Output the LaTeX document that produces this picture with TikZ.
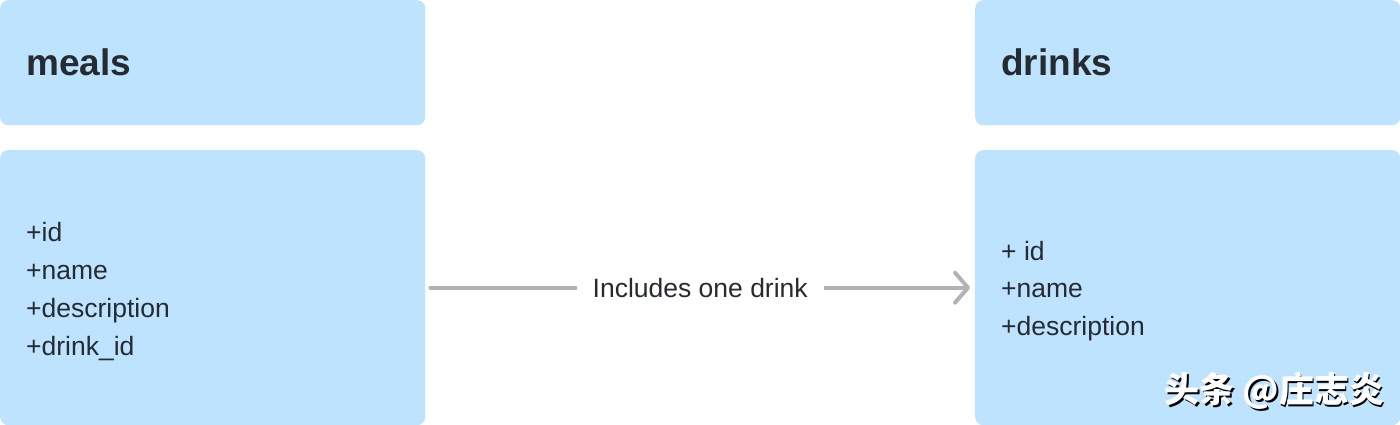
\documentclass[tikz,border=0pt]{standalone}
\usepackage{fontspec}
\setmainfont{Liberation Sans}
\newfontfamily\cjk{Noto Sans CJK SC}
\usepackage{tikz}
\usetikzlibrary{arrows.meta,positioning}
\usepackage{xcolor}
\definecolor{TableBlue}{HTML}{BEE3FE}
\definecolor{InkDark}{HTML}{262B31}
\definecolor{LinkGray}{HTML}{B3B3B3}

\begin{document}
\begin{tikzpicture}[x=1pt,y=-1pt,
    tablebox/.style={fill=TableBlue,rounded corners=8pt,inner sep=0pt,
      minimum width=425pt,anchor=north west},
    titletext/.style={text=InkDark,font=\fontsize{37}{40}\selectfont\bfseries,
      anchor=base west,inner sep=0pt},
    fieldtext/.style={text=InkDark,font=\fontsize{26.5}{37.7}\selectfont,
      align=left,anchor=west,inner sep=0pt},
    marktext/.style={font=\cjk\bfseries\fontsize{35}{40}\selectfont,
      anchor=east,inner sep=0pt},
    relarrow/.style={LinkGray,line width=4pt,line cap=round,
      -{Straight Barb[length=13pt,width=30pt,round]}}]
    \useasboundingbox (0,0) rectangle (1400,425);

    \node[tablebox,minimum height=125pt] (mealsHead) at (0,0) {};
    \node[tablebox,minimum height=275pt] (mealsBody) at (0,150) {};
    \node[tablebox,minimum height=125pt] (drinksHead) at (975,0) {};
    \node[tablebox,minimum height=275pt] (drinksBody) at (975,150) {};

    \node[titletext] (mealsTitle) at (26,76) {meals};
    \node[titletext] (drinksTitle) at (1001,76) {drinks};

    \node[fieldtext] (mealsFields) at (26,291.5)
      {+id\\+name\\+description\\+drink\_id};
    \node[fieldtext] (drinksFields) at (1001,291)
      {+ id\\+name\\+description};

    \draw[relarrow,shorten <=5pt,shorten >=5pt] (mealsBody.east) -- (drinksBody.west)
      node[midway,fill=white,text=InkDark,inner xsep=16pt,
        font=\fontsize{26.5}{30}\selectfont] (includesLabel) {Includes one drink};

    % watermark
    \node[marktext,text=black] (markShadow) at (1386,392.5) {头条 @庄志炎};
    \node[marktext,text=white] (markText) at (1384.5,391) {头条 @庄志炎};
\end{tikzpicture}
\end{document}
